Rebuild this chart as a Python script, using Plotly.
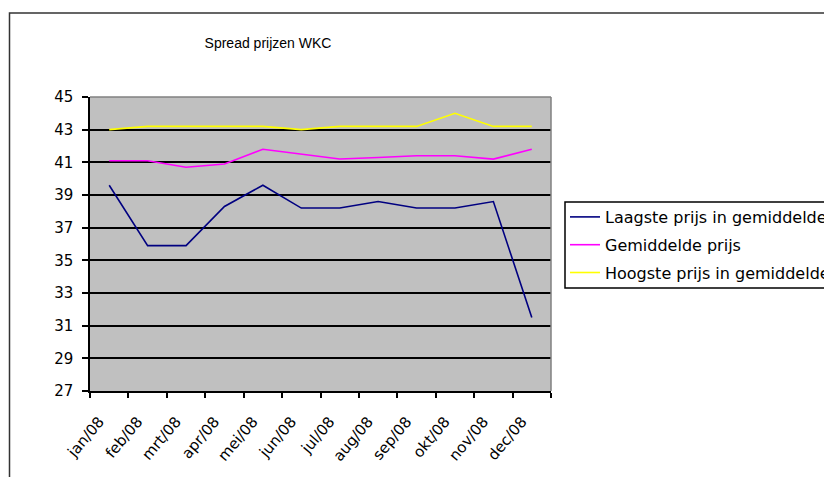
import plotly.graph_objects as go

# Monthly categories and price series (WKC spread, 2008)
months = ["jan/08", "feb/08", "mrt/08", "apr/08", "mei/08", "jun/08",
          "jul/08", "aug/08", "sep/08", "okt/08", "nov/08", "dec/08"]
laagste = [39.6, 35.9, 35.9, 38.3, 39.6, 38.2, 38.2, 38.6, 38.2, 38.2, 38.6, 31.5]
gemiddeld = [41.1, 41.1, 40.7, 40.9, 41.8, 41.5, 41.2, 41.3, 41.4, 41.4, 41.2, 41.8]
hoogste = [43.0, 43.2, 43.2, 43.2, 43.2, 43.0, 43.2, 43.2, 43.2, 44.0, 43.2, 43.2]

series_names = ["Laagste prijs in gemiddelde", "Gemiddelde prijs", "Hoogste prijs in gemiddelde"]
series_values = [laagste, gemiddeld, hoogste]
series_colors = ["#000080", "#FF00FF", "#FFFF00"]

FONT = "DejaVu Sans, Verdana, sans-serif"

fig = go.Figure()
for name, vals, col in zip(series_names, series_values, series_colors):
    fig.add_trace(go.Scatter(
        x=months, y=vals, name=name, mode="lines",
        line=dict(color=col, width=1.6),
        legendgroup=name,
    ))

W, H = 824, 477
L, R, T, B = 90, 273, 97, 86
pw, ph = W - L - R, H - T - B

def px_x(p):
    return (p - L) / pw

def px_y(p):
    return (H - B - p) / ph

fig.update_layout(
    width=W, height=H,
    margin=dict(l=L, r=R, t=T, b=B, autoexpand=False),
    paper_bgcolor="white",
    plot_bgcolor="#C0C0C0",
    font=dict(family=FONT, color="black", size=15),
    title=dict(
        text="Spread prijzen WKC",
        font=dict(family="Liberation Sans, Arial", size=14, color="black"),
        x=px_x(268), xref="paper", xanchor="center",
        y=1 - 43 / H, yref="container", yanchor="middle",
    ),
    showlegend=True,
    legend=dict(
        x=px_x(565), y=px_y(200), xanchor="left", yanchor="top",
        bgcolor="rgba(0,0,0,0)", borderwidth=0,
        font=dict(family=FONT, size=16, color="black"),
        tracegroupgap=4,
        itemwidth=30,
    ),
    xaxis=dict(
        type="category", tickson="boundaries",
        showgrid=False, showline=True, linecolor="black", linewidth=1.5,
        ticks="outside", ticklen=5, tickcolor="black", tickwidth=1.5,
        tickangle=-50, tickfont=dict(size=15),
        ticklabelstandoff=14, ticklabelshift=-10,
        range=[-0.5, 11.5],
    ),
    yaxis=dict(
        range=[27, 45], tick0=27, dtick=2,
        showgrid=True, gridcolor="black", gridwidth=1.5,
        showline=True, linecolor="black", linewidth=1.5,
        ticks="outside", ticklen=6, tickcolor="black", tickwidth=1.5,
        ticklabelstandoff=6, tickfont=dict(size=15),
        zeroline=False,
    ),
    shapes=[
        # outer chart frame
        dict(type="rect", xref="paper", yref="paper",
             x0=px_x(9.5), x1=px_x(1000), y0=px_y(13), y1=px_y(700),
             line=dict(color="#333333", width=1.5), layer="below"),
        # plot-area border (top and right)
        dict(type="line", xref="paper", yref="paper", x0=0, x1=1, y0=1, y1=1,
             line=dict(color="#808080", width=1.5), layer="above"),
        dict(type="line", xref="paper", yref="paper", x0=1, x1=1, y0=0, y1=1,
             line=dict(color="#808080", width=1.5), layer="above"),
        # legend frame
        dict(type="rect", xref="paper", yref="paper",
             x0=px_x(565), x1=px_x(1000), y0=px_y(202), y1=px_y(288),
             line=dict(color="black", width=1.5), layer="above"),
    ],
)

fig.write_html("out.html")
